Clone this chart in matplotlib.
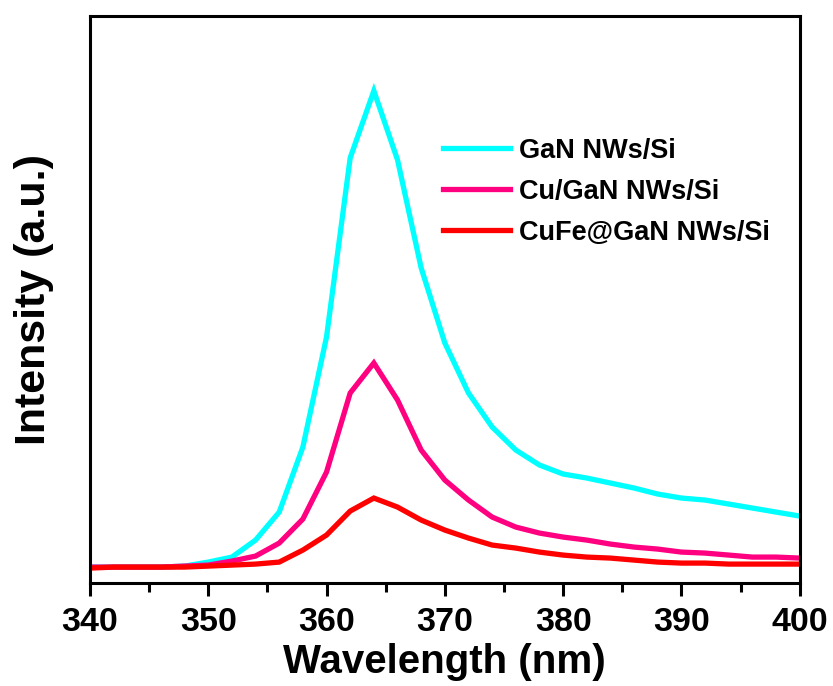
import matplotlib
matplotlib.use("Agg")
import matplotlib.pyplot as plt
from matplotlib.ticker import MultipleLocator, NullLocator

plt.rcParams['font.family'] = ['Liberation Sans', 'DejaVu Sans']
plt.rcParams['font.weight'] = 'bold'

# PL spectra, sampled every 2 nm
wavelength = list(range(340, 401, 2))
gan = [16, 16, 16, 16, 17, 21, 26, 43, 71, 136, 246, 425, 492, 423, 315, 240,
       190, 156, 133, 118, 109, 105, 100, 95, 89, 85, 83, 79, 75, 71, 67]
cu_gan = [16, 16, 16, 16, 17, 18, 22, 27, 40, 64, 111, 190, 220, 183, 133, 103,
          83, 66, 56, 50, 46, 43, 39, 36, 34, 31, 30, 28, 26, 26, 25]
cufe_gan = [15, 16, 16, 16, 16, 17, 18, 19, 21, 33, 48, 72, 85, 76, 63, 53,
            45, 38, 35, 31, 28, 26, 25, 23, 21, 20, 20, 19, 19, 19, 19]

labels = ['GaN NWs/Si', 'Cu/GaN NWs/Si', 'CuFe@GaN NWs/Si']
colors = ['#00FFFF', '#FF0080', '#FF0000']

fig = plt.figure(figsize=(8.33, 6.86), dpi=100)
ax = fig.add_axes([0.108, 0.150, 0.852, 0.827])

for y, lab, c in zip([gan, cu_gan, cufe_gan], labels, colors):
    ax.plot(wavelength, y, color=c, lw=3.8, label=lab, solid_joinstyle='miter')

ax.set_xlim(340, 400)
ax.set_ylim(0, 567)
ax.xaxis.set_major_locator(MultipleLocator(10))
ax.xaxis.set_minor_locator(MultipleLocator(5))
ax.yaxis.set_major_locator(NullLocator())
ax.tick_params(axis='x', which='major', direction='out', length=9.5, width=2.2,
               labelsize=24.5, pad=8)
ax.tick_params(axis='x', which='minor', direction='out', length=6.5, width=2.2)
for s in ax.spines.values():
    s.set_linewidth(2.2)

ax.set_xlabel('Wavelength (nm)', fontsize=29, fontweight='bold', labelpad=3)
ax.set_ylabel('Intensity (a.u.)', fontsize=31, fontweight='bold', labelpad=26)

ax.legend(loc='upper left', bbox_to_anchor=(0.497, 0.785), frameon=False,
          fontsize=19.5, handlelength=2.5, handletextpad=0.3, labelspacing=0.55,
          borderpad=0, borderaxespad=0)

fig.savefig('out.png', dpi=100)
